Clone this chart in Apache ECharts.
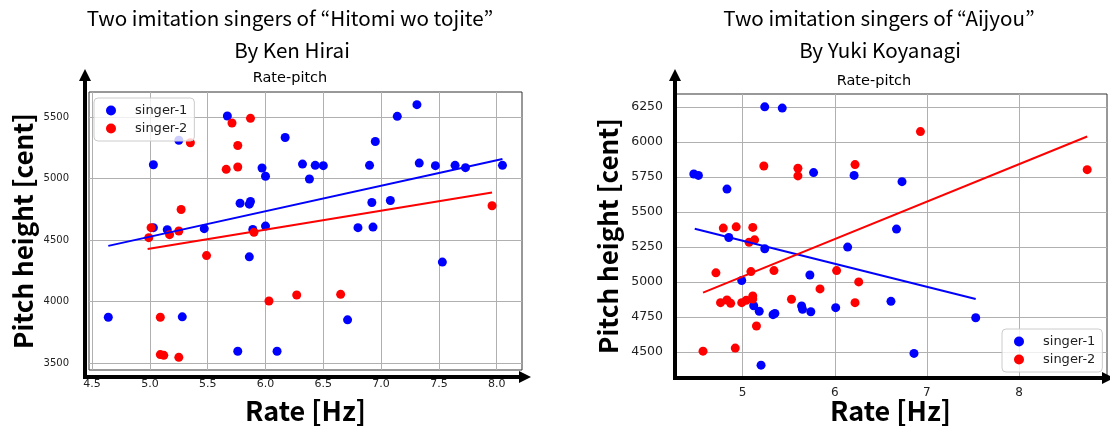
<!DOCTYPE html>
<html>
<head>
<meta charset="utf-8">
<title>Rate-pitch</title>
<script src="https://cdn.jsdelivr.net/npm/echarts@6/dist/echarts.min.js"></script>
<style>
  html, body { margin: 0; padding: 0; background: #fff; }
  #chart { width: 1110px; height: 430px; }
</style>
</head>
<body>
<div id="chart"></div>
<script>
// ---- Data: "Hitomi wo tojite" (Ken Hirai) — [rate Hz, pitch cent]
const hitomiSinger1 = [
  [4.64, 3872], [5.03, 5112], [5.03, 4600], [5.15, 4584], [5.25, 5311],
  [5.28, 3875], [5.47, 4592], [5.67, 5508], [5.76, 3595], [5.78, 4799],
  [5.86, 4791], [5.87, 4813], [5.86, 4363], [5.89, 4586], [5.97, 5085],
  [6.00, 5018], [6.00, 4613], [6.10, 3595], [6.17, 5333], [6.32, 5117],
  [6.38, 4996], [6.43, 5107], [6.50, 5104], [6.71, 3851], [6.80, 4600],
  [6.90, 5107], [6.92, 4805], [6.93, 4605], [6.95, 5301], [7.08, 4821],
  [7.14, 5505], [7.31, 5600], [7.33, 5125], [7.47, 5104], [7.53, 4320],
  [7.64, 5107], [7.73, 5088], [8.05, 5107]
];
const hitomiSinger2 = [
  [4.99, 4519], [5.01, 4600], [5.09, 3872], [5.09, 3568], [5.12, 3562],
  [5.17, 4543], [5.25, 4573], [5.25, 3546], [5.27, 4748], [5.35, 5290],
  [5.49, 4373], [5.66, 5074], [5.71, 5451], [5.76, 5093], [5.76, 5268],
  [5.87, 5489], [5.90, 4562], [6.03, 4004], [6.27, 4053], [6.65, 4058],
  [7.96, 4778]
];
// Fitted trend lines (end points)
const hitomiFit1 = [[4.64, 4452], [8.05, 5158]];
const hitomiFit2 = [[4.98, 4427], [7.96, 4886]];

// ---- Data: "Aijyou" (Yuki Koyanagi)
const aijyouSinger1 = [
  [4.47, 5772], [4.52, 5762], [4.83, 5664], [4.85, 5318], [4.99, 5010],
  [5.12, 4830], [5.18, 4790], [5.20, 4405], [5.24, 6252], [5.24, 5237],
  [5.33, 4766], [5.35, 4775], [5.43, 6243], [5.64, 4828], [5.65, 4804],
  [5.73, 5050], [5.74, 4787], [5.77, 5782], [6.01, 4816], [6.14, 5249],
  [6.21, 5762], [6.61, 4861], [6.67, 5378], [6.73, 5717], [6.86, 4489],
  [7.53, 4744]
];
const aijyouSinger2 = [
  [4.57, 4505], [4.71, 5065], [4.76, 4852], [4.79, 5385], [4.83, 4871],
  [4.87, 4847], [4.92, 4527], [4.93, 5394], [4.99, 4852], [5.04, 4869],
  [5.07, 5284], [5.09, 5074], [5.11, 5390], [5.11, 4900], [5.11, 4878],
  [5.13, 5301], [5.15, 4685], [5.23, 5829], [5.34, 5081], [5.53, 4876],
  [5.60, 5813], [5.60, 5758], [5.84, 4950], [6.02, 5081], [6.22, 5839],
  [6.22, 4852], [6.26, 5000], [6.93, 6075], [8.74, 5803]
];
const aijyouFit1 = [[4.48, 5380], [7.53, 4878]];
const aijyouFit2 = [[4.57, 4924], [8.74, 6040]];

// ---- Tick labels
const hitomiRateTicks = [4.5, 5.0, 5.5, 6.0, 6.5, 7.0, 7.5, 8.0];
const hitomiPitchTicks = [3500, 4000, 4500, 5000, 5500];
const aijyouRateTicks = [5, 6, 7, 8];
const aijyouPitchTicks = [4500, 4750, 5000, 5250, 5500, 5750, 6000, 6250];

// ---- Layout
const gridL = { left: 89, top: 92, width: 433, height: 278 };
const gridR = { left: 674, top: 94, width: 433, height: 284 };

const BLUE = '#0000ff';
const RED = '#ff0000';
const X_NAME_FONT = { fontFamily: 'Noto Sans CJK JP', fontWeight: 'bold', fontSize: 27, color: '#000' };
const Y_NAME_FONT = { fontFamily: 'Noto Sans CJK JP', fontWeight: 'bold', fontSize: 26, color: '#000' };

function valueAxis(gridIndex, min, max, ticks, fmt, name, nameFont, nameGap, labelMargin, tickSize) {
  return {
    type: 'value', gridIndex, min, max, name,
    nameLocation: 'middle', nameGap, nameTextStyle: nameFont, nameMoveOverlap: false,
    axisLine: { show: false },
    axisTick: { show: false, customValues: ticks },
    axisLabel: { customValues: ticks, formatter: fmt, margin: labelMargin,
      fontFamily: 'DejaVu Sans', fontSize: tickSize, color: '#222' },
    splitLine: { show: true, lineStyle: { color: '#b0b0b0', width: 1 } }
  };
}

// Thick black axis arrows drawn just outside each plot box
function axisArrows(x0, y0, yTip, xTip) {
  const head = 12, half = 6;
  return [
    { type: 'polyline', z: 100, shape: { points: [[x0, yTip + head], [x0, y0], [xTip - head, y0]] },
      style: { stroke: '#000', lineWidth: 4, fill: null } },
    { type: 'polygon', z: 100, shape: { points: [[x0, yTip], [x0 - half, yTip + head], [x0 + half, yTip + head]] },
      style: { fill: '#000' } },
    { type: 'polygon', z: 100, shape: { points: [[xTip, y0], [xTip - head, y0 - half], [xTip - head, y0 + half]] },
      style: { fill: '#000' } }
  ];
}

function textEl(text, x, y, font, size, weight) {
  return { type: 'text', x, y, style: { text, fontFamily: font, fontSize: size, fontWeight: weight || 'normal',
    fill: '#000', align: 'center', verticalAlign: 'middle' } };
}

function legendFor(left, top) {
  return {
    data: ['singer-1', 'singer-2'], orient: 'vertical', left, top,
    icon: 'circle', itemWidth: 30, itemHeight: 10, itemGap: 5,
    padding: [6, 7, 6, 12], borderColor: '#cccccc', borderWidth: 1, borderRadius: 4,
    backgroundColor: 'rgba(255,255,255,0.8)',
    textStyle: { fontFamily: 'DejaVu Sans', fontSize: 13, color: '#222', padding: [0, 0, 0, 4] },
    selectedMode: false
  };
}

function scatter(name, idx, data, color) {
  return { name, type: 'scatter', xAxisIndex: idx, yAxisIndex: idx, data, symbolSize: 9,
    itemStyle: { color, opacity: 1 }, z: 2 };
}
function fitLine(name, idx, data, color) {
  return { name, type: 'line', xAxisIndex: idx, yAxisIndex: idx, data, showSymbol: false, silent: true,
    lineStyle: { color, width: 2 }, z: 3 };
}

const gridBase = { show: true, borderColor: '#333', borderWidth: 1, backgroundColor: 'transparent',
  containLabel: false, outerBoundsMode: 'none' };

const chart = echarts.init(document.getElementById('chart'), null, { renderer: 'canvas' });
chart.setOption({
  animation: false,
  backgroundColor: '#fff',
  grid: [Object.assign({}, gridBase, gridL), Object.assign({}, gridBase, gridR)],
  xAxis: [
    valueAxis(0, 4.473, 8.219, hitomiRateTicks, v => v.toFixed(1), 'Rate [Hz]', X_NAME_FONT, 27, 9, 11),
    valueAxis(1, 4.255, 8.955, aijyouRateTicks, v => String(v), 'Rate [Hz]', X_NAME_FONT, 19, 9, 12)
  ],
  yAxis: [
    valueAxis(0, 3443, 5703, hitomiPitchTicks, v => String(v), 'Pitch height [cent]', Y_NAME_FONT, 53, 20, 10),
    valueAxis(1, 4313, 6344, aijyouPitchTicks, v => String(v), 'Pitch height [cent]', Y_NAME_FONT, 53, 11, 12.5)
  ],
  legend: [legendFor(94, 98), legendFor(1002, 329)],
  series: [
    scatter('singer-1', 0, hitomiSinger1, BLUE),
    scatter('singer-2', 0, hitomiSinger2, RED),
    fitLine('fit-1', 0, hitomiFit1, BLUE),
    fitLine('fit-2', 0, hitomiFit2, RED),
    scatter('singer-1', 1, aijyouSinger1, BLUE),
    scatter('singer-2', 1, aijyouSinger2, RED),
    fitLine('fit-1', 1, aijyouFit1, BLUE),
    fitLine('fit-2', 1, aijyouFit2, RED)
  ],
  graphic: [
    textEl('Two imitation singers of \u201cHitomi wo tojite\u201d', 290, 18, 'Noto Sans CJK JP', 20.6),
    textEl('By Ken Hirai', 292, 50, 'Noto Sans CJK JP', 20.6),
    textEl('Rate-pitch', 290, 78, 'DejaVu Sans', 14.5),
    textEl('Two imitation singers of \u201cAijyou\u201d', 879, 18, 'Noto Sans CJK JP', 20.6),
    textEl('By Yuki Koyanagi', 880, 50, 'Noto Sans CJK JP', 20.6),
    textEl('Rate-pitch', 874, 81, 'DejaVu Sans', 14.5)
  ].concat(axisArrows(85, 377, 69, 531), axisArrows(675, 378, 69, 1114))
});
</script>
</body>
</html>
